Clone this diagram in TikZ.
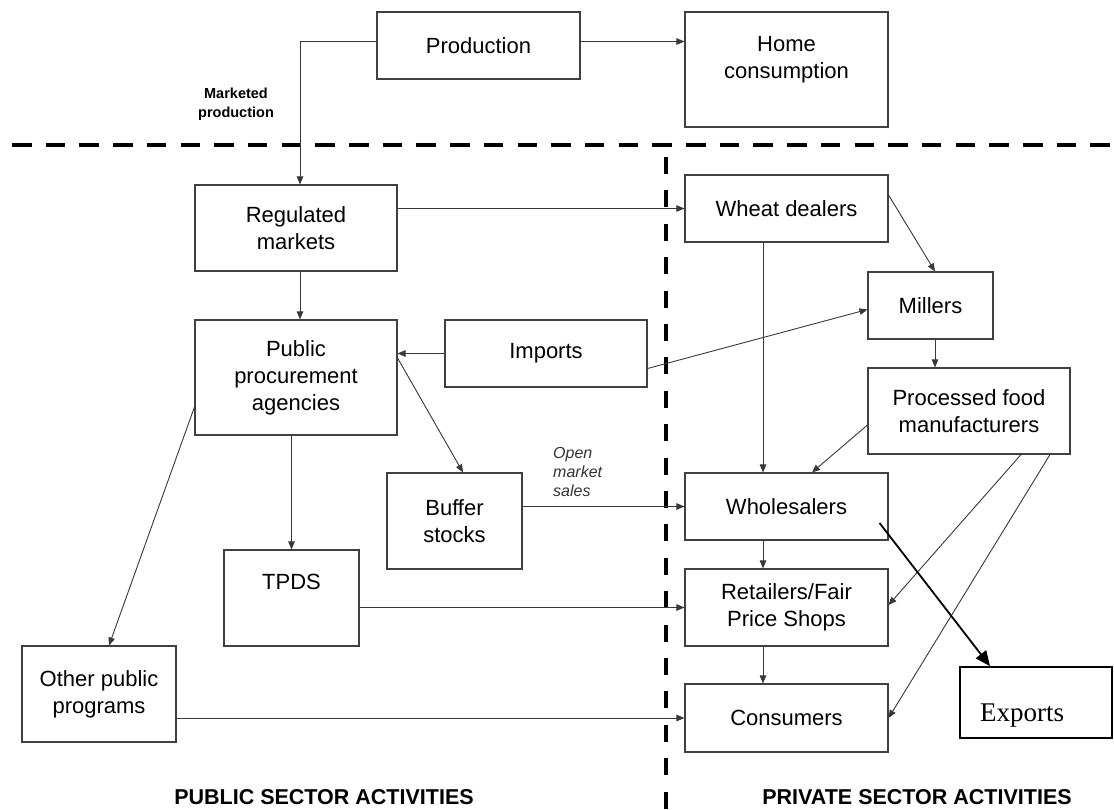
\documentclass[tikz,border=0pt]{standalone}
\usepackage{fontspec}
\setmainfont{Liberation Sans}
\newfontfamily\expfont{Liberation Serif}
\usetikzlibrary{arrows.meta}

\begin{document}
\begin{tikzpicture}[x=1pt,y=-1pt,
  box/.style={draw=black!75, line width=1.1pt, align=center, inner sep=0pt, font=\fontsize{22}{27}\selectfont},
  flow/.style={draw=black!78, line width=0.9pt, -{Triangle[length=8pt,width=6.5pt]}},
  bigflow/.style={draw=black, line width=1.8pt, -{Triangle[length=15pt,width=13pt]}},
  divider/.style={line width=4.5pt, line cap=butt},
  sector/.style={font=\bfseries\fontsize{21.5}{24}\selectfont, inner sep=0pt}]
\useasboundingbox (0,0) rectangle (1114,809);
\def\vx{666}
\def\hy{145}
\draw[divider, dash pattern=on 19.5pt off 14.2pt] (12,\hy) -- (1114,\hy);
\draw[divider, dash pattern=on 17pt off 16.4pt] (\vx,157) -- (\vx,809);
\node[box, minimum width=203, minimum height=67] (prod) at (478.5,45.5) {Production};
\node[box, minimum width=203, minimum height=115] (home) at (786.5,69.5) {Home\\consumption\\[-2pt]\mbox{}};
\node[font=\bfseries\fontsize{14.5}{19}\selectfont, align=center] (mkt) at (236,104) {Marketed\\production};
\node[box, minimum width=202, minimum height=86] (reg) at (296,228) {Regulated\\markets};
\node[box, minimum width=202, minimum height=115] (pub) at (296,377.5) {Public\\procurement\\agencies};
\node[box, minimum width=202, minimum height=67] (imp) at (546,353.5) {Imports};
\node[box, minimum width=135, minimum height=96] (buf) at (454.5,521) {Buffer\\stocks};
\node[box, minimum width=135, minimum height=96] (tpds) at (291.5,598) {TPDS\\[5pt]\mbox{}};
\node[box, minimum width=154, minimum height=96] (other) at (99,694) {Other public\\programs};
\node[box, minimum width=203, minimum height=67] (wheat) at (786.5,208.5) {Wheat dealers};
\node[box, minimum width=125, minimum height=67] (mill) at (930.5,305.5) {Millers};
\node[box, minimum width=202, minimum height=86] (proc) at (969,411) {Processed food\\manufacturers};
\node[box, minimum width=203, minimum height=67] (whole) at (786.5,506.5) {Wholesalers};
\node[box, minimum width=203, minimum height=77] (ret) at (786.5,607.5) {Retailers/Fair\\Price Shops};
\node[box, minimum width=203, minimum height=68] (cons) at (786.5,718) {Consumers};
\node[draw=black, line width=1.8pt, minimum width=152, minimum height=71, inner sep=0pt] (exp) at (1036,702.5) {};
\node[font=\expfont\fontsize{27}{30}\selectfont, anchor=west, inner sep=0pt] (exptxt) at (980,716) {Exports};
\node[font=\itshape\fontsize{16}{19}\selectfont, align=left, anchor=south west, inner sep=0pt, text=black!80] (oms) at (553,497) {Open\\market\\sales};
\node[sector] (pubsec) at (324,797) {PUBLIC SECTOR ACTIVITIES};
\node[sector] (privsec) at (917,797) {PRIVATE SECTOR ACTIVITIES};
\draw[flow] ([yshift=4pt]prod.east) -- ([yshift=4pt]prod.east -| home.west);
\draw[flow] ([yshift=4pt]prod.west) -| ([xshift=4pt]reg.north);
\draw[flow] (wheat.west -| reg.east) -- (wheat.west);
\draw[flow] ([xshift=4pt]reg.south) -- ([xshift=4pt]pub.north);
\draw[flow] (imp.west) -- (imp.west -| pub.east);
\draw[flow] ([yshift=-15pt]imp.east) -- ([yshift=-4pt]mill.west);
\draw[flow] ([yshift=13.5pt]wheat.east) -- ([xshift=4.5pt]mill.north);
\draw[flow] ([xshift=4.5pt]mill.south) -- ([xshift=4.5pt]mill.south |- proc.north);
\draw[flow] ([xshift=-23.5pt]wheat.south) -- ([xshift=-23.5pt]whole.north);
\draw[flow] ([yshift=-14pt]proc.west) -- ([xshift=25.5pt]whole.north);
\draw[flow] ([yshift=19.5pt]pub.east) -- ([xshift=8.5pt]buf.north);
\draw[flow] (pub.south -| tpds.north) -- (tpds.north);
\draw[flow] ([yshift=-29.5pt]pub.west) -- ([xshift=10pt]other.north);
\draw[flow] (whole.west -| buf.east) -- (whole.west);
\draw[flow] (ret.west -| tpds.east) -- (ret.west);
\draw[flow] (cons.west -| other.east) -- (cons.west);
\draw[flow] ([xshift=-23.5pt]whole.south) -- ([xshift=-23.5pt]ret.north);
\draw[flow] ([xshift=-23.5pt]ret.south) -- ([xshift=-23.5pt]cons.north);
\draw[flow] ([xshift=52pt]proc.south) -- ([yshift=2.5pt]ret.east);
\draw[flow] ([xshift=81pt]proc.south) -- (cons.east);
\draw[bigflow] ([xshift=-9pt,yshift=-16.5pt]whole.east) -- ([xshift=-46pt]exp.north);
\end{tikzpicture}
\end{document}
